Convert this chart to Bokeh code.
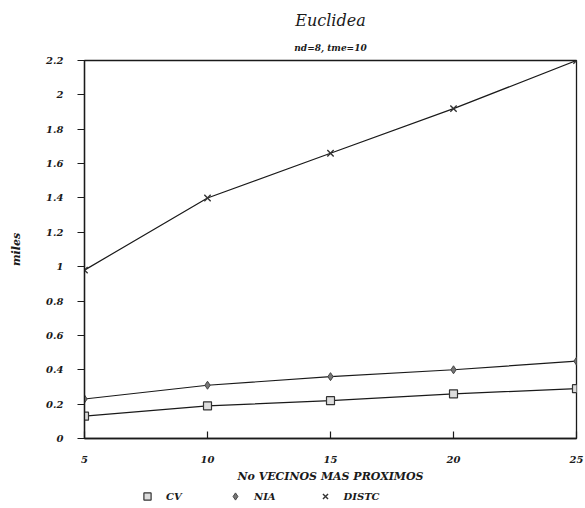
from bokeh.plotting import figure
from bokeh.layouts import column
from bokeh.models import Range1d, FixedTicker, Title, Legend, LegendItem
from bokeh.embed import file_html
from bokeh.resources import INLINE

vecinos = [5, 10, 15, 20, 25]
cv = [0.13, 0.19, 0.22, 0.26, 0.29]
nia = [0.23, 0.31, 0.36, 0.40, 0.45]
distc = [0.98, 1.40, 1.66, 1.92, 2.20]
x_ticks = [5, 10, 15, 20, 25]
y_ticks = [0, 0.2, 0.4, 0.6, 0.8, 1, 1.2, 1.4, 1.6, 1.8, 2, 2.2]
series_names = ["CV", "NIA", "DISTC"]

FONT = "DejaVu Serif"
INK = "#1a1a1a"

p = figure(width=585, height=486, output_backend="svg", toolbar_location=None,
           x_range=Range1d(5, 25), y_range=Range1d(0, 2.2),
           min_border_left=84, min_border_right=9, min_border_top=60, min_border_bottom=48)

p.title.text = "Euclidea"
p.title.align = "center"
p.title.text_font = FONT
p.title.text_font_style = "italic"
p.title.text_font_size = "16px"
p.title.text_color = INK
p.title.standoff = 5
p.add_layout(Title(text="nd=8, tme=10", align="center", text_font=FONT,
                   text_font_style="bold italic", text_font_size="9px",
                   text_color=INK, standoff=16), "above")

p.grid.visible = False
p.outline_line_color = INK
p.outline_line_width = 1.3
p.background_fill_color = "white"
p.border_fill_color = "white"

p.xaxis.ticker = FixedTicker(ticks=x_ticks)
p.yaxis.ticker = FixedTicker(ticks=y_ticks)
p.yaxis.major_label_overrides = {0: "0", 1: "1", 2: "2"}
for ax in (p.xaxis[0], p.yaxis[0]):
    ax.axis_line_color = INK
    ax.axis_line_width = 1.3
    ax.major_tick_line_color = INK
    ax.major_tick_line_width = 1.2
    ax.minor_tick_line_color = None
    ax.major_label_text_font = FONT
    ax.major_label_text_font_style = "bold italic"
    ax.major_label_text_font_size = "10px"
    ax.major_label_text_color = INK
    ax.axis_label_text_font = FONT
    ax.axis_label_text_font_style = "bold italic"
    ax.axis_label_text_font_size = "11px"
    ax.axis_label_text_color = INK

p.xaxis.major_tick_in = 7
p.xaxis.major_tick_out = 0
p.xaxis.major_label_standoff = 17
p.xaxis.axis_label = "No VECINOS MAS PROXIMOS"
p.xaxis.axis_label_standoff = 4
p.yaxis.major_tick_in = 0
p.yaxis.major_tick_out = 7
p.yaxis.major_label_standoff = 14
p.yaxis.axis_label = "miles"
p.yaxis.axis_label_standoff = 20

styles = [dict(marker="square", size=8, line_color="#333333", fill_color="#dddddd", line_width=1.2),
          dict(marker="diamond", size=8, line_color="#444444", fill_color="#777777", line_width=1),
          dict(marker="x", size=9, line_color="#333333", line_width=1.4)]
series = [cv, nia, distc]

for ys, st in zip(series, styles):
    p.line(vecinos, ys, line_color=INK, line_width=1.2)
    p.scatter(vecinos, ys, **st)

# legend row below the chart (its own renderers fall outside its view range)
lg = figure(width=585, height=22, output_backend="svg", toolbar_location=None,
            x_range=Range1d(0, 1), y_range=Range1d(0, 1),
            x_axis_type=None, y_axis_type=None, min_border=0)
lg.grid.visible = False
lg.outline_line_color = None
lg.border_fill_color = "white"
items = []
for name, ys, st in zip(series_names, series, styles):
    r = lg.scatter(vecinos, ys, **st)
    items.append(LegendItem(label=name, renderers=[r]))
legend = Legend(items=items, orientation="horizontal", location=(54, 3),
                border_line_color=None, background_fill_alpha=0,
                label_text_font=FONT, label_text_font_style="bold italic",
                label_text_font_size="10px", label_text_color=INK,
                glyph_width=18, glyph_height=18, spacing=40, padding=0,
                margin=0, label_standoff=10, label_height=18)
lg.add_layout(legend, "center")

layout = column(p, lg, spacing=0)
open("out.html", "w").write(file_html(layout, INLINE))
